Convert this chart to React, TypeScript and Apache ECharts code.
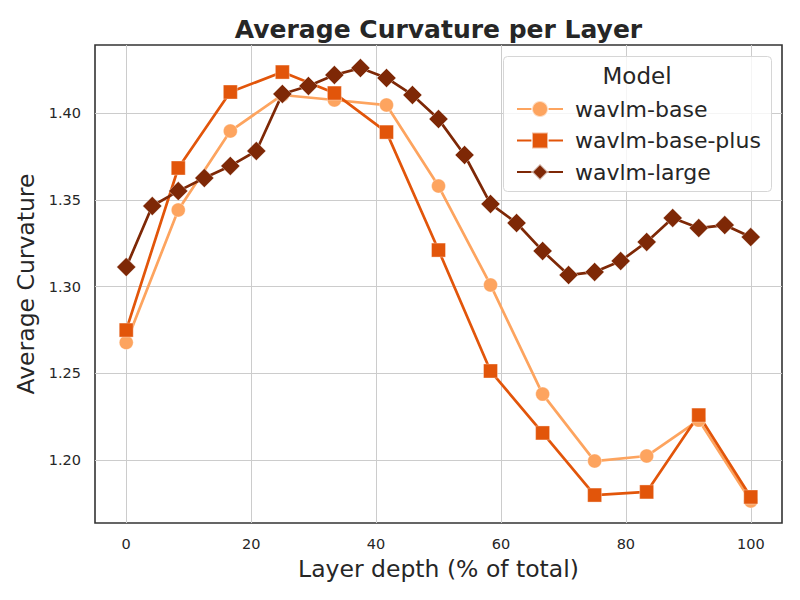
import React, { useEffect, useRef } from "react";
import * as echarts from "echarts";

// Layer depth (% of total) for the 12-layer and 24-layer models
const depthBase = [0, 8.33, 16.67, 25, 33.33, 41.67, 50, 58.33, 66.67, 75, 83.33, 91.67, 100];
const depthLarge = [
  0, 4.17, 8.33, 12.5, 16.67, 20.83, 25, 29.17, 33.33, 37.5, 41.67, 45.83, 50,
  54.17, 58.33, 62.5, 66.67, 70.83, 75, 79.17, 83.33, 87.5, 91.67, 95.83, 100,
];

const curvBase = [1.2677, 1.3441, 1.3896, 1.4104, 1.4075, 1.4046, 1.3579, 1.3009, 1.238, 1.1994, 1.2023, 1.223, 1.1764];
const curvBasePlus = [1.2749, 1.3683, 1.4121, 1.4236, 1.4115, 1.389, 1.321, 1.2513, 1.2156, 1.1798, 1.1816, 1.2259, 1.1787];
const curvLarge = [
  1.3112, 1.3464, 1.355, 1.3625, 1.3695, 1.3781, 1.411, 1.4156, 1.4219, 1.4259,
  1.4202, 1.4104, 1.3965, 1.3758, 1.3476, 1.3366, 1.3205, 1.3066, 1.3084, 1.3147,
  1.3257, 1.3395, 1.3337, 1.3354, 1.3285,
];

const xTicks = [0, 20, 40, 60, 80, 100];
const yTicks = [1.2, 1.25, 1.3, 1.35, 1.4];

const modelNames = ["wavlm-base", "wavlm-base-plus", "wavlm-large"];
const colors = ["#fda45f", "#e2550a", "#7e2806"];

const FONT = "DejaVu Sans";
const INK = "#262626";

const zip = (xs: number[], ys: number[]) => xs.map((x, i) => [x, ys[i]]);

export default function App() {
  const ref = useRef<HTMLDivElement>(null);

  useEffect(() => {
    if (!ref.current) return;
    const chart = echarts.init(ref.current, null, { renderer: "svg" });

    const lineSeries = (name: string, data: number[][], color: string, symbol: string, size: number) => ({
      name,
      type: "line",
      data,
      symbol,
      symbolSize: size,
      showSymbol: true,
      lineStyle: { color, width: 2.7 },
      itemStyle: { color, borderColor: "rgba(255,255,255,0.6)", borderWidth: 0.6 },
      emphasis: { disabled: true },
      z: 3,
    });

    chart.setOption({
      animation: false,
      backgroundColor: "#ffffff",
      grid: {
        left: 95,
        right: 18,
        top: 45,
        bottom: 77,
        show: true,
        borderColor: "#333333",
        borderWidth: 1.6,
        backgroundColor: "#ffffff",
      },
      xAxis: {
        type: "value",
        min: -5,
        max: 105,
        name: "Layer depth (% of total)",
        nameLocation: "middle",
        nameGap: 34,
        nameTextStyle: { fontFamily: FONT, fontSize: 23.5, color: INK },
        axisLine: { show: false },
        axisTick: { show: false, customValues: xTicks },
        axisLabel: {
          customValues: xTicks,
          fontFamily: FONT,
          fontSize: 14.5,
          color: INK,
          margin: 13,
        },
        splitLine: { show: true, lineStyle: { color: "#cccccc", width: 1 } },
      },
      yAxis: {
        type: "value",
        min: 1.1637,
        max: 1.4392,
        name: "Average Curvature",
        nameLocation: "middle",
        nameGap: 56,
        nameTextStyle: { fontFamily: FONT, fontSize: 23.5, color: INK },
        axisLine: { show: false },
        axisTick: { show: false, customValues: yTicks },
        axisLabel: {
          customValues: yTicks,
          formatter: (v: number) => v.toFixed(2),
          fontFamily: FONT,
          fontSize: 14.5,
          color: INK,
          margin: 14,
        },
        splitLine: { show: true, lineStyle: { color: "#cccccc", width: 1 } },
      },
      legend: {
        orient: "vertical",
        left: 511,
        top: 93,
        itemWidth: 46,
        itemHeight: 20,
        itemGap: 9.5,
        data: modelNames,
        textStyle: {
          fontFamily: FONT,
          fontSize: 22,
          color: INK,
          lineHeight: 22,
          padding: [0, 0, 0, 7],
        },
        z: 6,
      },
      graphic: [
        {
          type: "text",
          x: 438.5,
          y: 29,
          style: {
            text: "Average Curvature per Layer",
            fontFamily: FONT,
            fontSize: 25,
            fontWeight: "bold",
            fill: INK,
            align: "center",
            verticalAlign: "middle",
          },
          silent: true,
        },
        {
          type: "rect",
          shape: { x: 503.5, y: 56.5, width: 268, height: 135, r: 4 },
          style: { fill: "rgba(255,255,255,0.8)", stroke: "#d6d6d6", lineWidth: 1 },
          z: 5,
          silent: true,
        },
        {
          type: "text",
          x: 637,
          y: 76,
          style: {
            text: "Model",
            fontFamily: FONT,
            fontSize: 23,
            fill: INK,
            align: "center",
            verticalAlign: "middle",
          },
          z: 6,
          silent: true,
        },
      ],
      series: [
        lineSeries(modelNames[0], zip(depthBase, curvBase), colors[0], "circle", 14),
        lineSeries(modelNames[1], zip(depthBase, curvBasePlus), colors[1], "rect", 14),
        lineSeries(modelNames[2], zip(depthLarge, curvLarge), colors[2], "diamond", 19),
      ],
    });

    return () => chart.dispose();
  }, []);

  return (
    <div
      ref={ref}
      style={{ position: "absolute", left: 0, top: 0, width: 800, height: 600 }}
    />
  );
}
